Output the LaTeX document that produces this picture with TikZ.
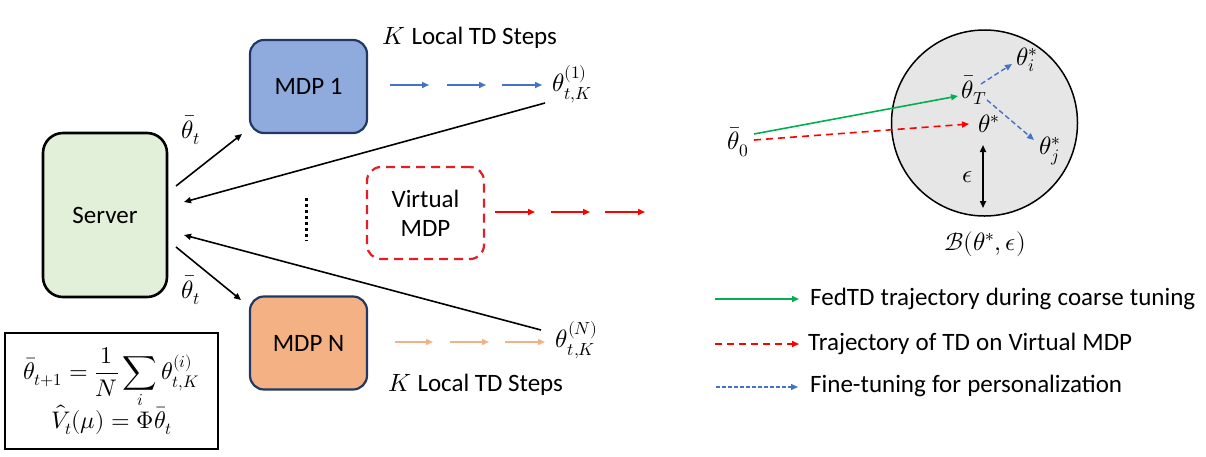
\documentclass[tikz,border=0pt]{standalone}
\usepackage{unicode-math}
\setmainfont{Carlito}
\setmathfont{Latin Modern Math}
\usetikzlibrary{arrows.meta,calc}
\definecolor{srvgreen}{HTML}{E2F0D9}
\definecolor{mdpblue}{HTML}{8FAADC}
\definecolor{mdporange}{HTML}{F4B183}
\definecolor{navy}{HTML}{1F3864}
\definecolor{ballgray}{HTML}{E7E6E6}
\definecolor{stepblue}{HTML}{4472C4}
\definecolor{vred}{HTML}{E41E26}
\definecolor{tred}{HTML}{FF0000}
\definecolor{fgreen}{HTML}{00B050}
\tikzset{
  tip/.style={-{Triangle[length=7pt,width=6pt]}},
  dtip/.style={{Triangle[length=7pt,width=6pt]}-{Triangle[length=7pt,width=6pt]}},
  blk/.style={line width=1.6pt, black, tip},
  mdpbox/.style={draw=navy, line width=2.2pt, rounded corners=14pt, minimum width=117pt, minimum height=93pt, font=\fontsize{25}{29}\selectfont},
  lbl/.style={inner sep=0pt, font=\fontsize{25}{29}\selectfont},
  stepb/.style={stepblue, line width=1.6pt, tip},
  stepr/.style={tred, line width=1.6pt, tip},
  stepo/.style={mdporange, line width=1.6pt, tip},
}
\begin{document}
\begin{tikzpicture}[x=1pt,y=-1pt]
\useasboundingbox (0,0) rectangle (1206,456);
% boxes
\node[draw=black, line width=2.6pt, rounded corners=20pt, fill=srvgreen, minimum width=124pt, minimum height=164pt, font=\fontsize{25}{29}\selectfont] (server) at (105,215) {Server};
\node[mdpbox, fill=mdpblue] (mdp1) at (308.5,86.5) {MDP 1};
\node[mdpbox, fill=mdporange] (mdpn) at (308.5,343) {MDP N};
\node[draw=vred, line width=2.2pt, dash pattern=on 9pt off 6pt, rounded corners=14pt, minimum width=117pt, minimum height=92pt, align=center, font=\fontsize{25}{29}\selectfont] (vmdp) at (425.5,213) {Virtual\\MDP};
% dots
\draw[line width=3pt, dash pattern=on 3pt off 3pt] (306,198) -- (306,241);
% labels
\node[lbl] (k1) at (470,38) {$K$ Local TD Steps};
\node[lbl] (kn) at (476,385) {$K$ Local TD Steps};
\node[lbl] (th1) at (572,84) {$\theta_{t,K}^{(1)}$};
\node[lbl] (thn) at (577,340) {$\theta_{t,K}^{(N)}$};
\node[lbl] (tb1) at (191,130) {$\bar\theta_t$};
\node[lbl] (tb2) at (191,290) {$\bar\theta_t$};
% server arrows
\coordinate (s1) at (176,186);
\coordinate (m1) at (242,134);
\coordinate (s2) at (176,247);
\coordinate (m2) at (241,300);
\coordinate (r1a) at (545,103);
\coordinate (r1b) at (184,202);
\coordinate (rna) at (541,330);
\coordinate (rnb) at (184,235);
\draw[blk] (s1) -- (m1);
\draw[blk] (s2) -- (m2);
\draw[blk] (r1a) -- (r1b);
\draw[blk] (rna) -- (rnb);
% step arrows
\foreach \a/\b in {390/429,447/486,502/542} {\draw[stepb] (\a,85) -- (\b,85);}
\foreach \a/\b in {495/535,551/590,605/645} {\draw[stepr] (\a,212) -- (\b,212);}
\foreach \a/\b in {395/433,450/489,505/545} {\draw[stepo] (\a,342) -- (\b,342);}
% formula box
\node[draw=black, line width=1.6pt, minimum width=213pt, minimum height=116pt, align=center, inner sep=2pt, font=\fontsize{24}{26}\selectfont] (form) at (111.5,391)
  {$\displaystyle \bar\theta_{t+1} = \frac{1}{N}\sum_i \theta_{t,K}^{(i)}$\\[-5pt]$\hat V_t(\mu) = \Phi\bar\theta_t$};
% ball
\node[circle, draw=black, line width=1.5pt, fill=ballgray, minimum size=186pt, inner sep=0pt] (ball) at (984.5,123) {};
\node[lbl] (t0) at (738,142) {$\bar\theta_0$};
\node[lbl] (tT) at (974,90) {$\bar\theta_T$};
\node[lbl] (ts) at (989,124) {$\theta^*$};
\node[lbl] (ti) at (1027,60) {$\theta_i^*$};
\node[lbl] (tj) at (1050,151) {$\theta_j^*$};
\node[lbl] (eps) at (968,177) {$\epsilon$};
\node[lbl] (bl) at (985,244) {$\mathcal{B}(\theta^*,\epsilon)$};
\coordinate (g0) at (754,134);
\coordinate (g1) at (958,96);
\coordinate (r0) at (754,140);
\coordinate (r1) at (969,124);
\coordinate (bi0) at (981,84);
\coordinate (bi1) at (1012,64);
\coordinate (bj0) at (987,100);
\coordinate (bj1) at (1034,140);
\coordinate (e0) at (983,145);
\coordinate (e1) at (983,208);
\draw[fgreen, line width=1.6pt, tip] (g0) -- (g1);
\draw[tred, line width=1.6pt, dash pattern=on 7pt off 5pt, tip] (r0) -- (r1);
\draw[stepblue, line width=1.4pt, dash pattern=on 5pt off 3pt, tip] (bi0) -- (bi1);
\draw[stepblue, line width=1.4pt, dash pattern=on 5pt off 3pt, tip] (bj0) -- (bj1);
\draw[black, line width=1.6pt, dtip] (e0) -- (e1);
% legend
\coordinate (la0) at (715,299);
\coordinate (la1) at (799,299);
\coordinate (lb0) at (715,344);
\coordinate (lb1) at (799,344);
\coordinate (lc0) at (716,387);
\coordinate (lc1) at (798,387);
\draw[fgreen, line width=1.6pt, tip] (la0) -- (la1);
\draw[tred, line width=1.6pt, dash pattern=on 7pt off 5pt, tip] (lb0) -- (lb1);
\draw[stepblue, line width=1.4pt, dash pattern=on 4pt off 2pt, tip] (lc0) -- (lc1);
\node[lbl, anchor=west] (lta) at (810,299) {\makebox[385pt][s]{FedTD trajectory during coarse tuning}};
\node[lbl, anchor=west] (ltb) at (808,344) {\makebox[324pt][s]{Trajectory of TD on Virtual MDP}};
\node[lbl, anchor=west] (ltc) at (810,386) {\makebox[312pt][s]{Fine-tuning for personalization}};
\end{tikzpicture}
\end{document}
